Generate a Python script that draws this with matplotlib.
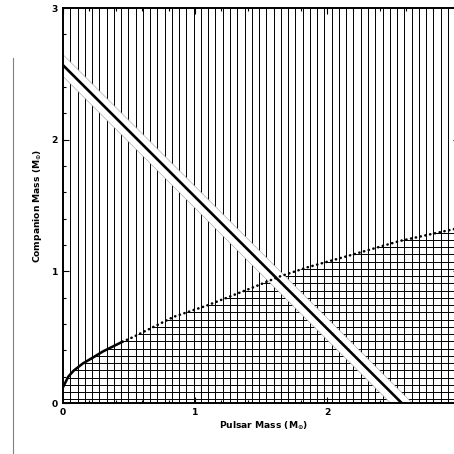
import numpy as np
import matplotlib.pyplot as plt
from matplotlib.lines import Line2D
from matplotlib.patches import Polygon
from matplotlib.ticker import MultipleLocator

# minimum companion mass curve
curve_x = [0.0, 0.04, 0.08, 0.15, 0.23, 0.30, 0.38, 0.45, 0.53, 0.60,
           0.84, 1.09, 1.42, 1.64, 1.85, 2.17, 2.55, 2.96, 3.0]
curve_y = [0.12, 0.20, 0.245, 0.30, 0.347, 0.39, 0.43, 0.465, 0.50, 0.535,
           0.655, 0.74, 0.87, 0.96, 1.03, 1.12, 1.23, 1.32, 1.33]

# total system mass and its allowed range
total_mass = 2.565
total_lo = 2.48
total_hi = 2.645

# hatch spacing (style only)
step = 0.055

plt.rcParams['font.family'] = ['DejaVu Sans']
plt.rcParams['font.weight'] = 'bold'

fig = plt.figure(figsize=(5.16, 5.16), dpi=88)
ax = fig.add_axes([63 / 454, 51 / 454, 396 / 454, 395 / 454])
ax.set_xlim(0, 3)
ax.set_ylim(0, 3)

# vertical hatching everywhere
ax.vlines(np.arange(step, 3, step), 0, 3, color='black', lw=0.8, zorder=1)

# horizontal hatching only below the curve
under = Polygon(list(zip(curve_x, curve_y)) + [(3, 0), (0, 0)],
                closed=True, facecolor='none', edgecolor='none')
ax.add_patch(under)
hl = ax.hlines(np.arange(0.028, 1.4, step), 0, 3, color='black', lw=0.8,
               zorder=1)
hl.set_clip_path(under)

# white band for the total mass range
bx = [0, total_hi]
ax.fill_between(bx, [total_lo - v for v in bx], [total_hi - v for v in bx],
                facecolor='white', edgecolor='none', zorder=2)
ax.plot(bx, [total_lo - v for v in bx], color='0.65', lw=0.5, zorder=3)
ax.plot(bx, [total_hi - v for v in bx], color='0.65', lw=0.5, zorder=3)
ax.plot([0, total_mass], [total_mass, 0], color='black', lw=2.2, zorder=4)

# curve: solid where steep, dotted after
ax.plot(curve_x[:8], curve_y[:8], color='black', lw=2.1, zorder=5,
        solid_capstyle='round')
ax.plot(curve_x[7:], curve_y[7:], color='black', lw=2.1, zorder=5,
        linestyle=(0, (0.1, 1.8)), dash_capstyle='round')

for s in ax.spines.values():
    s.set_linewidth(1.6)
    s.set_zorder(6)

ax.set_xticks([0, 1, 2, 3])
ax.set_xticklabels(['0', '1', '2', ''])
ax.yaxis.set_major_locator(MultipleLocator(1))
ax.xaxis.set_minor_locator(MultipleLocator(0.2))
ax.yaxis.set_minor_locator(MultipleLocator(0.2))
ax.tick_params(which='both', direction='in', top=True, right=True,
               labelsize=7.5, width=0.9, pad=4)
ax.tick_params(which='major', length=5)
ax.tick_params(which='minor', length=2.5)

ax.set_xlabel(r'Pulsar Mass (M$_{\odot}$)', fontsize=7.5, fontweight='bold')
ax.set_ylabel(r'Companion Mass (M$_{\odot}$)', fontsize=7.5, fontweight='bold')
ax.xaxis.set_label_coords(201 / 396, -16 / 395)
ax.yaxis.set_label_coords(-19 / 396, 0.5)

# gray rule at the left margin
fig.add_artist(Line2D([12.5 / 454, 12.5 / 454], [0, 396 / 454],
                      transform=fig.transFigure, color='0.5', lw=0.9))

plt.savefig('out.png', dpi=88)
plt.close()
